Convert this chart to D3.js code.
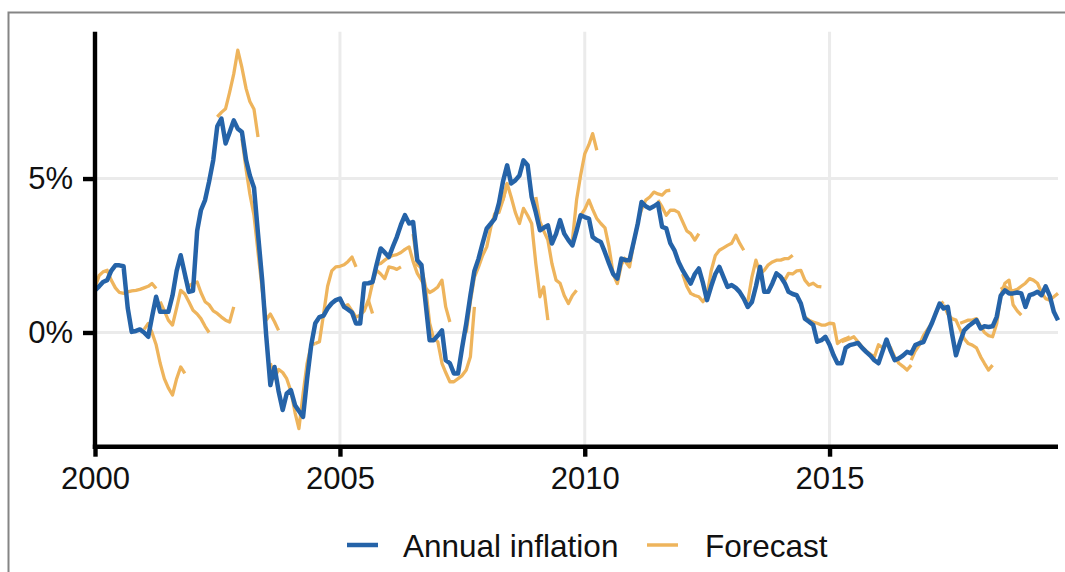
<!DOCTYPE html>
<html>
<head>
<meta charset="utf-8">
<script src="https://cdn.jsdelivr.net/npm/d3@7"></script>
<style>
  body { margin: 0; background: #fff; }
  text { font-family: "Liberation Sans", Arial, sans-serif; }
</style>
</head>
<body>
<svg id="chart" width="1065" height="572"></svg>
<script>
// Monthly annual inflation (%), first value is January 2000
const inflationStart = "2000-01";
const inflation = [
  1.37, 1.50, 1.64, 1.70, 2.00, 2.18, 2.18, 2.15, 0.80, 0.02, 0.05, 0.10,
  0.00, -0.14, 0.50, 1.16, 0.67, 0.67, 0.67, 1.20, 2.00, 2.51, 1.90, 1.32,
  1.35, 3.30, 3.97, 4.30, 4.90, 5.60, 6.70, 6.95, 6.14, 6.50, 6.89, 6.62,
  6.51, 5.60, 5.10, 4.70, 3.20, 1.70, -0.10, -1.71, -1.12, -1.90, -2.52, -1.98,
  -1.87, -2.36, -2.55, -2.74, -1.50, -0.40, 0.30, 0.50, 0.55, 0.78, 0.95, 1.05,
  1.10, 0.83, 0.75, 0.65, 0.29, 0.29, 1.59, 1.60, 1.64, 2.20, 2.73, 2.60,
  2.45, 2.80, 3.10, 3.50, 3.81, 3.54, 3.59, 2.35, 2.19, 1.00, -0.25, -0.25,
  -0.10, 0.07, -0.90, -1.00, -1.33, -1.33, -0.50, 0.29, 1.20, 2.00, 2.40, 2.90,
  3.38, 3.54, 3.70, 4.20, 4.90, 5.43, 4.84, 4.94, 5.10, 5.59, 5.43, 4.40,
  3.90, 3.32, 3.40, 3.48, 2.89, 3.20, 3.65, 3.21, 3.00, 2.83, 3.30, 3.81,
  3.75, 3.70, 3.10, 3.00, 2.94, 2.60, 2.24, 1.90, 1.75, 2.40, 2.35, 2.35,
  2.94, 3.54, 4.24, 4.10, 4.03, 4.10, 4.19, 3.43, 3.38, 2.90, 2.67, 2.30,
  2.02, 1.80, 1.59, 1.90, 2.08, 1.60, 1.05, 1.50, 1.90, 2.13, 1.80, 1.48,
  1.54, 1.45, 1.32, 1.10, 0.83, 0.99, 1.50, 2.13, 1.32, 1.32, 1.60, 1.92,
  1.81, 1.60, 1.32, 1.25, 1.21, 0.94, 0.45, 0.35, 0.24, -0.30, -0.25, -0.14,
  -0.40, -0.75, -1.00, -1.00, -0.50, -0.41, -0.38, -0.34, -0.50, -0.63, -0.75, -0.90,
  -1.00, -0.60, -0.23, -0.60, -0.90, -0.84, -0.75, -0.63, -0.68, -0.41, -0.35, -0.31,
  0.00, 0.29, 0.60, 0.94, 0.78, 0.83, 0.00, -0.74, -0.30, 0.07, 0.20, 0.30,
  0.40, 0.13, 0.20, 0.18, 0.20, 0.51, 1.20, 1.37, 1.27, 1.27, 1.30, 1.27,
  0.83, 1.21, 1.25, 1.32, 1.21, 1.50, 1.20, 0.67, 0.40
];

// Forecast paths: month each one starts, and its monthly values (%)
const forecastStart = [
  "2000-01", "2001-01", "2001-05", "2001-11", "2002-07", "2003-01", "2003-08",
  "2004-07", "2005-01", "2005-08", "2005-10", "2006-07", "2007-08", "2008-05",
  "2009-01", "2009-10", "2009-12", "2010-11", "2011-07", "2012-01", "2013-05",
  "2013-11", "2014-07", "2015-04", "2016-03", "2016-09", "2017-05", "2017-09",
  "2018-07"
];
const forecastPath = [
  [1.45, 1.85, 1.97, 2.02, 1.70, 1.45, 1.30, 1.27, 1.32, 1.35, 1.37, 1.40, 1.45, 1.50, 1.59, 1.43],
  [0.10, 0.29, 0.00, -0.40, -1.00, -1.50, -1.80, -2.03, -1.50, -1.12, -1.33],
  [1.00, 0.70, 0.40, 0.24, 0.80, 1.37, 1.25, 1.00, 0.72, 0.60, 0.45, 0.20, 0.00],
  [1.80, 1.50, 1.60, 1.64, 1.30, 1.00, 0.90, 0.70, 0.62, 0.50, 0.40, 0.34, 0.83],
  [7.00, 7.15, 7.27, 7.80, 8.40, 9.17, 8.60, 7.92, 7.50, 7.25, 6.35],
  [6.30, 5.30, 4.50, 3.80, 2.60, 1.40, 0.40, 0.60, 0.35, 0.07],
  [-1.00, -1.50, -1.20, -1.30, -1.50, -1.90, -2.60, -3.12, -2.00, -1.00, -0.40, -0.36],
  [-0.36, -0.30, 0.60, 1.50, 2.00, 2.13, 2.15, 2.20, 2.30, 2.45, 2.13],
  [1.10, 0.85, 0.90, 0.70, 0.50, 0.56, 0.70, 1.05, 0.62],
  [1.00, 1.60, 2.02, 1.90, 1.75, 2.13, 2.10, 2.05, 2.13],
  [2.20, 2.24, 2.35, 2.45, 2.50, 2.53, 2.60, 2.70, 2.78, 2.30, 1.92, 1.70, 1.45, 1.30, 1.37, 1.48, 1.70, 0.83, 0.34],
  [3.20, 2.20, 2.10, 1.50, 0.30, -0.20, -0.30, -1.00, -1.30, -1.60, -1.60, -1.50, -1.40, -1.22, -0.79, 0.83],
  [0.00, 1.00, 1.80, 2.13, 2.50, 2.78, 3.43, 3.86, 3.90, 4.30, 4.84],
  [4.30, 4.84, 4.40, 3.90, 3.54, 4.03, 3.80, 3.54, 2.24, 1.16, 1.48, 0.40],
  [4.40, 3.60, 3.30, 3.00, 2.24, 1.70, 1.60, 1.20, 0.94, 1.20, 1.37],
  [3.00, 4.30, 5.10, 5.80, 6.10, 6.46, 5.92],
  [3.80, 4.00, 4.30, 4.00, 3.70, 3.54, 3.40, 2.78, 1.90, 1.59, 2.20, 2.45],
  [2.30, 2.13, 2.90, 3.60, 4.00, 4.30, 4.40, 4.56, 4.50, 4.46, 4.60, 4.62],
  [4.30, 4.08, 3.81, 3.97, 3.97, 3.90, 3.60, 3.30, 3.21, 3.00, 3.21],
  [1.90, 1.50, 1.27, 1.20, 1.16, 1.00, 1.20, 2.00, 2.50, 2.67, 2.75, 2.83, 2.90, 3.16, 2.90, 2.67],
  [1.00, 1.80, 2.35, 1.90, 2.02, 2.20, 2.29, 2.35, 2.35, 2.40, 2.40, 2.51],
  [1.60, 1.90, 1.80, 1.70, 1.92, 1.90, 2.00, 2.02, 1.70, 1.54, 1.60, 1.50, 1.48],
  [0.50, 0.40, 0.34, 0.30, 0.24, 0.24, 0.30, 0.29, -0.36, -0.25, -0.20, -0.14],
  [-0.30, -0.25, -0.20, -0.14, -0.30, -0.47, -0.60, -0.70, -0.80, -0.40, -0.50],
  [-0.30, -0.50, -0.80, -1.00, -1.10, -1.22, -1.06],
  [-0.90, -0.60, -0.40, -0.10, 0.10, 0.29, 0.60, 0.89, 1.00],
  [0.90, 0.60, 0.45, 0.40, 0.10, -0.20, -0.36, -0.41, -0.50, -0.79, -1.00, -1.22, -1.06],
  [0.30, 0.35, 0.40, 0.40, 0.45, 0.20, 0.00, -0.10, -0.14, 0.29, 1.20, 1.60, 1.70, 0.90, 0.70, 0.56],
  [1.40, 1.50, 1.40, 1.35, 1.40, 1.50, 1.60, 1.75, 1.70, 1.60, 1.30, 1.10, 1.05, 1.16, 1.27]
];

const xTickYears = [2000, 2005, 2010, 2015];
const yTickValues = [0, 5];
const seriesNames = ["Annual inflation", "Forecast"];
const seriesColors = ["#2563a8", "#eeb45c"];

// Turn "YYYY-MM" plus a month offset into a Date
function monthDate(start, offset) {
  const [yr, mo] = start.split("-").map(Number);
  return new Date(yr, mo - 1 + offset, 1);
}

const svg = d3.select("#chart");
const W = 1065, H = 572;
const plot = { left: 95, right: 1058, top: 31.7, bottom: 446.7 };

// Outer frame
svg.append("rect")
  .attr("x", 8.5).attr("y", 12.5)
  .attr("width", W + 20).attr("height", H + 20)
  .attr("fill", "none").attr("stroke", "#858585").attr("stroke-width", 2);

const x = d3.scaleTime()
  .domain([monthDate(inflationStart, 0), monthDate(inflationStart, inflation.length - 1)])
  .range([plot.left, plot.right]);
const y = d3.scaleLinear()
  .domain([-3.71, 9.77])
  .range([plot.bottom, plot.top]);

// Grid
const grid = svg.append("g").attr("stroke", "#ebebeb").attr("stroke-width", 3);
grid.selectAll("line.v").data(xTickYears).join("line")
  .attr("x1", d => x(new Date(d, 0, 1))).attr("x2", d => x(new Date(d, 0, 1)))
  .attr("y1", plot.top).attr("y2", plot.bottom);
grid.selectAll("line.h").data(yTickValues).join("line")
  .attr("x1", plot.left).attr("x2", plot.right)
  .attr("y1", d => y(d)).attr("y2", d => y(d));

const line = d3.line()
  .x(d => x(d.date))
  .y(d => y(d.value));

// Forecast paths
const forecasts = forecastStart.map((s, i) =>
  forecastPath[i].map((v, k) => ({ date: monthDate(s, k), value: v })));
svg.append("g").selectAll("path").data(forecasts).join("path")
  .attr("d", line)
  .attr("fill", "none")
  .attr("stroke", seriesColors[1])
  .attr("stroke-width", 3.3)
  .attr("stroke-linejoin", "round");

// Actual inflation
const actual = inflation.map((v, k) => ({ date: monthDate(inflationStart, k), value: v }));
svg.append("path")
  .datum(actual)
  .attr("d", line)
  .attr("fill", "none")
  .attr("stroke", seriesColors[0])
  .attr("stroke-width", 4.5)
  .attr("stroke-linejoin", "round");

// Axes
const xAxis = d3.axisBottom(x)
  .tickValues(xTickYears.map(yr => new Date(yr, 0, 1)))
  .tickFormat(d3.timeFormat("%Y"))
  .tickSize(10).tickSizeOuter(0).tickPadding(10);
const yAxis = d3.axisLeft(y)
  .tickValues(yTickValues)
  .tickFormat(d => d + "%")
  .tickSize(12).tickSizeOuter(0).tickPadding(10);

const gx = svg.append("g").attr("transform", `translate(0,${plot.bottom})`).call(xAxis);
const gy = svg.append("g").attr("transform", `translate(${plot.left},0)`).call(yAxis);
[gx, gy].forEach(g => {
  g.select(".domain").attr("stroke", "#000").attr("stroke-width", 4.4);
  g.selectAll(".tick line").attr("stroke", "#000").attr("stroke-width", 4.4);
  g.selectAll(".tick text").attr("fill", "#111").attr("font-size", 31)
    .attr("font-family", "Liberation Sans, Arial, sans-serif");
});
// Extend bottom axis to meet the left axis corner
gx.select(".domain").attr("d", `M${plot.left - 2.2},0H${plot.right}`);
gy.select(".domain").attr("d", `M0,${plot.top}V${plot.bottom + 2.2}`);

// Legend
const legendKeys = [
  { x0: 347, x1: 378, tx: 403 },
  { x0: 647, x1: 678, tx: 705 }
];
const legend = svg.append("g");
legend.selectAll("line").data(seriesNames).join("line")
  .attr("x1", (d, i) => legendKeys[i].x0).attr("x2", (d, i) => legendKeys[i].x1)
  .attr("y1", 545).attr("y2", 545)
  .attr("stroke", (d, i) => seriesColors[i])
  .attr("stroke-width", (d, i) => i === 0 ? 4.5 : 3.5);
legend.selectAll("text").data(seriesNames).join("text")
  .attr("x", (d, i) => legendKeys[i].tx)
  .attr("y", 556.5)
  .attr("font-size", 31.5)
  .attr("fill", "#111")
  .text(d => d);
</script>
</body>
</html>
